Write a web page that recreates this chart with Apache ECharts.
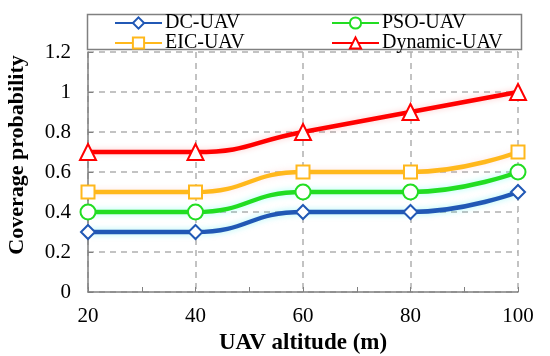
<!DOCTYPE html>
<html><head><meta charset="utf-8">
<script src="https://cdn.jsdelivr.net/npm/echarts@6/dist/echarts.min.js"></script>
<style>html,body{margin:0;padding:0;background:#fff}#c{width:550px;height:356px}</style>
</head><body><div id="c"></div>
<script>
const altitudes = [20, 40, 60, 80, 100];
const dcUAV = [0.3, 0.3, 0.4, 0.4, 0.5];
const psoUAV = [0.4, 0.4, 0.5, 0.5, 0.6];
const eicUAV = [0.5, 0.5, 0.6, 0.6, 0.7];
const dynamicUAV = [0.7, 0.7, 0.8, 0.9, 1.0];
const yTicks = [0, 0.2, 0.4, 0.6, 0.8, 1, 1.2];

const font = '"Liberation Serif","Times New Roman",serif';
const pair = arr => altitudes.map((x, i) => [x, arr[i]]);
function mk(name, data, color, symbol, size, glow) {
  return {
    name, type: 'line', data: pair(data), smooth: 0.5,
    symbol, symbolSize: size, showSymbol: true,
    lineStyle: { color, width: 4.5, shadowColor: glow, shadowBlur: 6 },
    itemStyle: { color: '#fff', borderColor: color, borderWidth: 2 },
    color, z: 3
  };
}
const legendText = { fontFamily: font, fontSize: 20, color: '#000', lineHeight: 19, padding: [0, 0, 0, -2] };
const chart = echarts.init(document.getElementById('c'));
chart.setOption({
  animation: false,
  backgroundColor: '#fff',
  grid: { left: 88, right: 32, top: 52, bottom: 64, containLabel: false, outerBoundsMode: 'none' },
  legend: [
    { data: ['DC-UAV', 'EIC-UAV'], orient: 'vertical', left: 114, top: 13, itemGap: 0, padding: 0,
      itemWidth: 47, itemHeight: 14, textStyle: legendText },
    { data: ['PSO-UAV', 'Dynamic-UAV'], orient: 'vertical', left: 331, top: 13, itemGap: 0, padding: 0,
      itemWidth: 47, itemHeight: 14, textStyle: legendText }
  ],
  graphic: [{ type: 'rect', shape: { x: 87.5, y: 14.5, width: 434, height: 35 },
    style: { fill: 'transparent', stroke: '#808080', lineWidth: 1.5 }, z: 0 }],
  xAxis: {
    type: 'value', min: 20, max: 100, interval: 20,
    name: 'UAV altitude (m)', nameLocation: 'middle', nameGap: 33,
    nameTextStyle: { fontFamily: font, fontSize: 23, fontWeight: 'bold', color: '#000' },
    axisLine: { lineStyle: { color: '#808080', width: 1.5 } },
    axisTick: { inside: true, length: 5, lineStyle: { color: '#808080' } },
    minorTick: { show: true, splitNumber: 2, length: 5, lineStyle: { color: '#808080' } },
    axisLabel: { fontFamily: font, fontSize: 21, color: '#000', margin: 14 },
    splitLine: { show: true, lineStyle: { color: '#b0b0b0', type: [6, 5], width: 1.5 } }
  },
  yAxis: {
    type: 'value', min: 0, max: 1.2, interval: 0.2,
    name: 'Coverage probability', nameLocation: 'middle', nameGap: 60,
    nameTextStyle: { fontFamily: font, fontSize: 22, fontWeight: 'bold', color: '#000', padding: [0, 0, 0, 34] },
    axisLine: { show: true, lineStyle: { color: '#808080', width: 1.5 } },
    axisTick: { show: true, inside: true, length: 5, lineStyle: { color: '#808080' } },
    axisLabel: { fontFamily: font, fontSize: 21, color: '#000', margin: 17,
      formatter: v => { const t = yTicks.find(k => Math.abs(k - v) < 1e-9); return String(t); } },
    splitLine: { show: true, lineStyle: { color: '#b0b0b0', type: [6, 5], width: 1.5 } }
  },
  series: [
    mk('DC-UAV', dcUAV, '#2158b5', 'diamond', 14, 'rgba(0,230,230,0.35)'),
    mk('PSO-UAV', psoUAV, '#22dd22', 'circle', 15, 'rgba(0,255,230,0.35)'),
    mk('EIC-UAV', eicUAV, '#ffb81c', 'rect', 13, 'rgba(255,150,150,0.25)'),
    mk('Dynamic-UAV', dynamicUAV, '#ff0000', 'triangle', 16, 'rgba(255,0,0,0.2)')
  ]
});
</script></body></html>
